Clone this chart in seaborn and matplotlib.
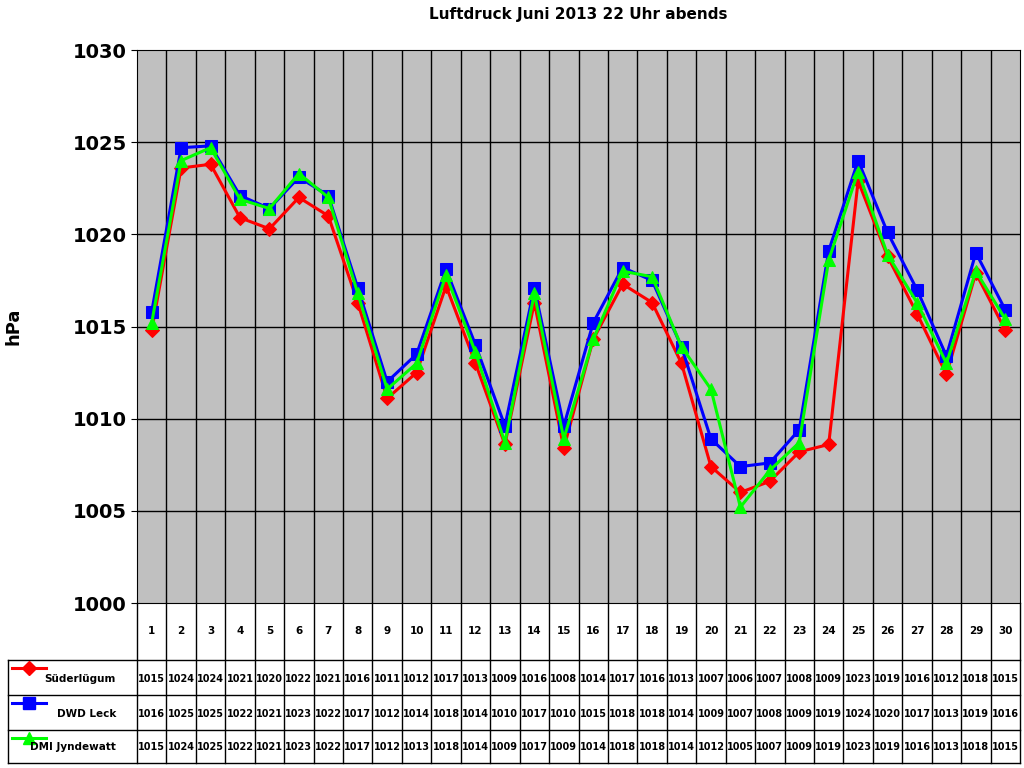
import matplotlib
matplotlib.use('Agg')
import matplotlib.pyplot as plt
import matplotlib.transforms as mtransforms
import pandas as pd
import seaborn as sns

days = list(range(1, 31))
suederluegum = [1014.8, 1023.6, 1023.8, 1020.9, 1020.3, 1022.0, 1021.0, 1016.3, 1011.1, 1012.5,
                1017.2, 1013.0, 1008.6, 1016.3, 1008.4, 1014.3, 1017.3, 1016.3, 1013.0, 1007.4,
                1006.0, 1006.6, 1008.2, 1008.6, 1022.9, 1018.8, 1015.7, 1012.4, 1017.9, 1014.8]
dwd_leck = [1015.8, 1024.7, 1024.8, 1022.1, 1021.4, 1023.1, 1022.1, 1017.1, 1012.0, 1013.5,
            1018.1, 1014.0, 1009.6, 1017.1, 1009.6, 1015.2, 1018.2, 1017.5, 1013.9, 1008.9,
            1007.4, 1007.6, 1009.4, 1019.1, 1024.0, 1020.1, 1017.0, 1013.4, 1019.0, 1015.9]
dmi_jyndewatt = [1015.2, 1024.0, 1024.7, 1021.9, 1021.4, 1023.3, 1022.0, 1016.8, 1011.6, 1013.0,
                 1017.8, 1013.6, 1008.7, 1016.8, 1008.9, 1014.3, 1018.0, 1017.7, 1013.9, 1011.6,
                 1005.2, 1007.2, 1008.7, 1018.6, 1023.4, 1018.9, 1016.3, 1013.0, 1018.0, 1015.4]

series = [("Süderlügum", suederluegum, "#FF0000", "D", 7),
          ("DWD Leck", dwd_leck, "#0000FF", "s", 9),
          ("DMI Jyndewatt", dmi_jyndewatt, "#00FF00", "^", 9)]

fig = plt.figure(figsize=(10.24, 7.68), dpi=100)
ax = fig.add_axes([137/1024, 1 - 603/768, 883/1024, 553/768])
ax.set_facecolor("#C0C0C0")

for name, vals, col, mk, ms in series:
    df = pd.DataFrame({"Tag": days, "hPa": vals})
    sns.lineplot(data=df, x="Tag", y="hPa", ax=ax, color=col, marker=mk, markersize=ms,
                 markeredgecolor=col, linewidth=2.2, legend=False)

ax.set_xlim(0.5, 30.5)
ax.set_ylim(1000, 1030)
ax.set_yticks(range(1000, 1031, 5))
ax.set_yticklabels([str(v) for v in range(1000, 1031, 5)], fontsize=14, fontweight='bold')
for v in range(1005, 1030, 5):
    ax.axhline(v, color='black', lw=1, zorder=0)
for d in range(1, 30):
    ax.axvline(d + 0.5, color='black', lw=1, zorder=0)
ax.set_xticks([])
ax.set_xlabel("")
ax.set_ylabel("hPa", fontsize=13, fontweight='bold')
ax.yaxis.set_label_coords(-0.13, 0.5)
ax.tick_params(axis='y', length=4)
for sp in ax.spines.values():
    sp.set_color('black')
ax.set_title("Luftdruck Juni 2013 22 Uhr abends", fontsize=11, fontweight='bold', pad=22)

# data table below the axes
tr = mtransforms.blended_transform_factory(ax.transData, fig.transFigure)
def fy(p):
    return 1 - p / 768
rows_y = [603, 660, 695, 730, 763]
for y in rows_y[1:]:
    fig.add_artist(plt.Line2D([8/1024, 1020/1024], [fy(y)] * 2, color='black', lw=1))
fig.add_artist(plt.Line2D([8/1024, 8/1024], [fy(660), fy(763)], color='black', lw=1))
for d in range(0, 31):
    ax.add_artist(plt.Line2D([d + 0.5] * 2, [fy(603), fy(763)], transform=tr, color='black',
                             lw=1, clip_on=False))
for d in days:
    ax.text(d, fy(631), str(d), transform=tr, ha='center', va='center', fontsize=7.5, fontweight='bold')
for i, (name, vals, col, mk, ms) in enumerate(series):
    ytxt = fy(rows_y[i + 2] - 16)
    for d, v in zip(days, vals):
        ax.text(d, ytxt, f"{v:.0f}", transform=tr, ha='center', va='center', fontsize=7,
                fontweight='bold')
    fig.text(116/1024, ytxt, name, ha='right', va='center', fontsize=7.5, fontweight='bold')
    ym = fy(rows_y[i + 1] + 8)
    fig.add_artist(plt.Line2D([12/1024, 46/1024], [ym, ym], color=col, lw=2.2))
    fig.add_artist(plt.Line2D([29/1024], [ym], color=col, marker=mk, markersize=ms, lw=0))

fig.savefig("out.png", dpi=100, facecolor='white')
